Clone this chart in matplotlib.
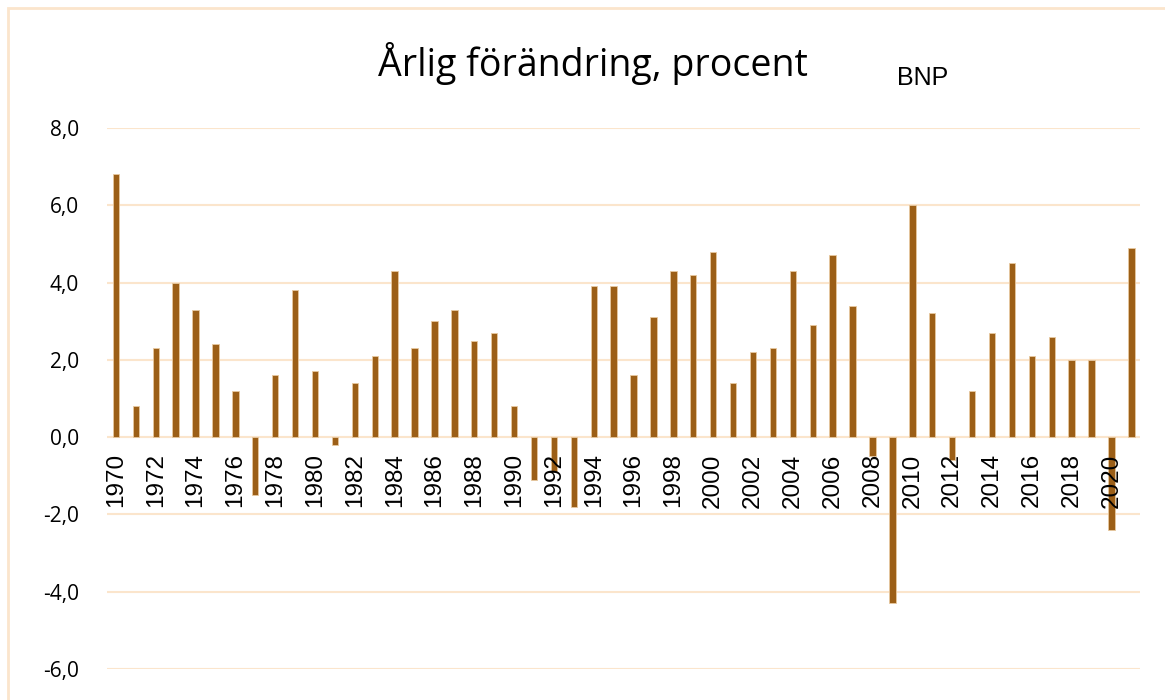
import matplotlib.pyplot as plt
from matplotlib.patches import Rectangle

years = list(range(1970, 2022))
bnp = [6.8, 0.8, 2.3, 4.0, 3.3, 2.4, 1.2, -1.5, 1.6, 3.8,
       1.7, -0.2, 1.4, 2.1, 4.3, 2.3, 3.0, 3.3, 2.5, 2.7,
       0.8, -1.1, -0.9, -1.8, 3.9, 3.9, 1.6, 3.1, 4.3, 4.2,
       4.8, 1.4, 2.2, 2.3, 4.3, 2.9, 4.7, 3.4, -0.5, -4.3,
       6.0, 3.2, -0.6, 1.2, 2.7, 4.5, 2.1, 2.6, 2.0, 2.0,
       -2.4, 4.9]
y_ticks = [-6, -4, -2, 0, 2, 4, 6, 8]

bar_color = "#9C5F17"
grid_color = "#FBE5CC"

fig = plt.figure(figsize=(11.65, 7), dpi=100)
ax = fig.add_axes([0.0918, 0.0443, 0.887, 0.7729])

# ram runt hela figuren
fig.patches.append(Rectangle((8 / 1165, -0.1), 1.2, 1 - 8 / 700 + 0.1,
                             transform=fig.transFigure, fill=False,
                             edgecolor=grid_color, linewidth=2))

ax.bar(years, bnp, width=0.32, color=bar_color, edgecolor="#E8C9A0",
       linewidth=0.6, zorder=3)

ax.set_xlim(1969.55, 2021.45)
ax.set_ylim(-6, 8)
ax.set_yticks(y_ticks)
ax.set_yticklabels([f"{v:.1f}".replace(".", ",") for v in y_ticks],
                   fontsize=15, family="Open Sans")
ax.yaxis.grid(True, color=grid_color, linewidth=1.5, zorder=0)
ax.tick_params(axis="y", length=0, pad=20)

# årtal under nollinjen, vartannat år
ax.set_xticks([])
for yr in years[::2]:
    ax.text(yr, -0.42, str(yr), rotation=90, ha="center", va="top",
            fontsize=17.5, family="Liberation Sans", zorder=4)

for s in ax.spines.values():
    s.set_visible(False)

fig.text(0.509, 0.909, "Årlig förändring, procent", ha="center", va="center",
         fontsize=27, family="Open Sans")
fig.text(0.792, 0.888, "BNP", ha="center", va="center", fontsize=18,
         family="Liberation Sans")

fig.savefig("out.png", dpi=100)
